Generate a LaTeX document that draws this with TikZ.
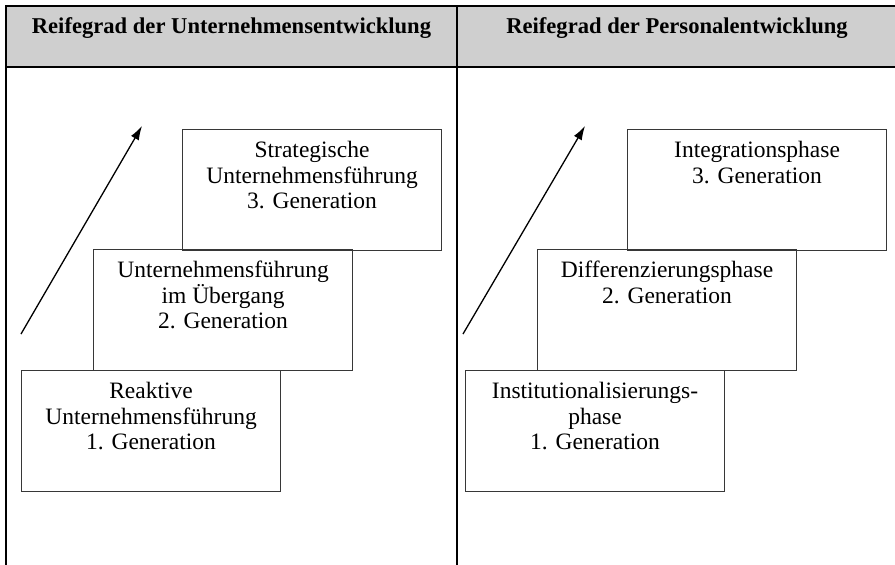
\documentclass[tikz,border=0pt]{standalone}
\usepackage{fontspec}
\setmainfont{Liberation Serif}
\usetikzlibrary{arrows.meta}
\definecolor{headgray}{RGB}{207,207,207}
\definecolor{boxline}{RGB}{55,55,55}
\tikzset{
  stage/.style={draw=boxline, line width=1.1pt, minimum width=259pt, minimum height=121pt, inner sep=0pt, anchor=north west},
  stagetext/.style={anchor=north, inner sep=0pt, align=center, font=\fontsize{23.5}{25.5}\selectfont},
  coltitle/.style={anchor=base, inner sep=0pt, font=\fontsize{22.6}{26}\selectfont\bfseries},
  frameline/.style={line width=2pt},
  divider/.style={line width=1.6pt},
  growth/.style={line width=1.3pt, -{Latex[length=14pt,width=9pt]}},
}
\begin{document}
\begin{tikzpicture}[x=1pt,y=-1pt]
\useasboundingbox (0,0) rectangle (895,565);
\clip (0,0) rectangle (895,565);
% header band and frame
\fill[headgray] (6,6) rectangle (900,67);
\draw[frameline] (900,6) -- (6,6) -- (6,570);
\draw[frameline] (6,67) -- (900,67);
\draw[divider] (457,6) -- (457,570);
% titles
\node[coltitle] (tl) at (231.5,33) {Reifegrad der Unternehmensentwicklung};
\node[coltitle] (tr) at (677,33) {Reifegrad der Personalentwicklung};
% left column
\node[stage] (l3) at (182,129) {};
\node[stage] (l2) at (93,249) {};
\node[stage] (l1) at (21,370) {};
\node[stagetext] (l3t) at ([yshift=-12pt]l3.north) {Strategische\\Unternehmensführung\\3. Generation};
\node[stagetext] (l2t) at ([yshift=-12pt]l2.north) {Unternehmensführung\\im Übergang\\2. Generation};
\node[stagetext] (l1t) at ([yshift=-12pt]l1.north) {Reaktive\\Unternehmensführung\\1. Generation};
\coordinate (la0) at (21,334);
\coordinate (la1) at (142,126);
\draw[growth] (la0) -- (la1);
% right column
\node[stage] (r3) at (627,129) {};
\node[stage] (r2) at (537,249) {};
\node[stage] (r1) at (465,370) {};
\node[stagetext] (r3t) at ([yshift=-12pt]r3.north) {Integrationsphase\\3. Generation};
\node[stagetext] (r2t) at ([yshift=-12pt]r2.north) {Differenzierungsphase\\2. Generation};
\node[stagetext] (r1t) at ([yshift=-12pt]r1.north) {Institutionalisierungs-\\phase\\1. Generation};
\coordinate (ra0) at (463,334);
\coordinate (ra1) at (585,126);
\draw[growth] (ra0) -- (ra1);
\end{tikzpicture}
\end{document}
